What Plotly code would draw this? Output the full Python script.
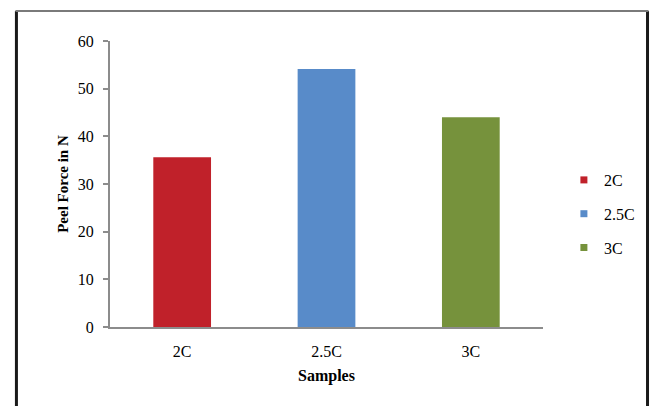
import plotly.graph_objects as go

categories = ["2C", "2.5C", "3C"]
peel_force = [35.6, 54.1, 44.0]
colors = ["#C0212A", "#588BC9", "#76923C"]

FONT = "Liberation Serif"

fig = go.Figure()
fig.add_trace(go.Bar(
    x=categories, y=peel_force, marker=dict(color=colors, line=dict(width=0)),
    width=0.4, showlegend=False,
))
for cat, col in zip(categories, colors):
    fig.add_trace(go.Scatter(
        x=[None], y=[None], mode="markers", name=cat, legendgroup=cat,
        marker=dict(symbol="square", size=7, color=col),
    ))

# page offset of the figure inside the browser window (body margin)
OFF = 8
W, H = 660 - 2 * OFF, 414 - 2 * OFF
L, R, T, B = 110 - OFF, 115 - OFF, 41 - OFF, 87 - OFF
pw, ph = W - L - R, H - T - B

def px(x):
    return (x - OFF - L) / pw

def py(y):
    return (H - B - (y - OFF)) / ph

fig.update_layout(
    width=W, height=H,
    margin=dict(l=L, r=R, t=T, b=B),
    paper_bgcolor="white", plot_bgcolor="white",
    font=dict(family=FONT, size=16, color="#000000"),
    xaxis=dict(
        showline=True, linecolor="#8C8C8C", linewidth=2,
        ticks="", showgrid=False, ticklabelstandoff=9,
        title=dict(text="<b>Samples</b>", font=dict(size=16), standoff=11),
    ),
    yaxis=dict(
        range=[0, 60], dtick=10, showline=True, linecolor="#8C8C8C", linewidth=2,
        ticks="outside", ticklen=5, tickcolor="#8C8C8C", tickwidth=2,
        showgrid=False, zeroline=False, ticklabelstandoff=6,
        title=dict(text="<b>Peel Force in N</b>", font=dict(size=15), standoff=6),
    ),
    legend=dict(
        x=px(566), xanchor="left", y=py(214), yanchor="middle",
        traceorder="grouped", tracegroupgap=10, font=dict(size=16),
        bgcolor="rgba(0,0,0,0)",
    ),
    bargap=0.6,
    shapes=[
        dict(type="line", xref="paper", yref="paper", x0=px(16), x1=px(16), y0=py(11), y1=py(420), line=dict(color="#1A1A1A", width=3)),
        dict(type="line", xref="paper", yref="paper", x0=px(650), x1=px(650), y0=py(11), y1=py(420), line=dict(color="#1A1A1A", width=3)),
        dict(type="line", xref="paper", yref="paper", x0=px(15), x1=px(651), y0=py(11), y1=py(11), line=dict(color="#7A7A7A", width=2)),
    ],
)

fig.write_html("out.html")
